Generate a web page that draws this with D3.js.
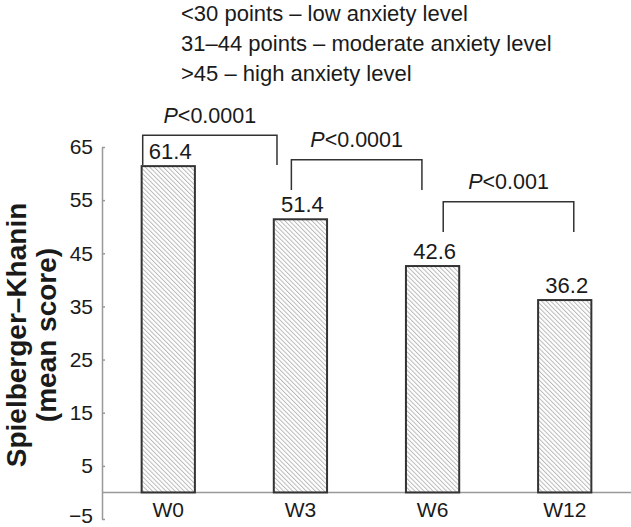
<!DOCTYPE html>
<html>
<head>
<meta charset="utf-8">
<script src="https://cdn.jsdelivr.net/npm/d3@7"></script>
<style>
  body { margin: 0; background: #fff; }
  svg { display: block; font-family: Arial, "Liberation Sans", sans-serif; }
</style>
</head>
<body>
<svg id="chart" width="631" height="527"></svg>
<script>
// Spielberger–Khanin mean score by week

const weeks = ["W0", "W3", "W6", "W12"];
const scores = [61.4, 51.4, 42.6, 36.2];
const yTicks = [-5, 5, 15, 25, 35, 45, 55, 65];
const notes = ["<30 points \u2013 low anxiety level",
               "31\u201344 points \u2013 moderate anxiety level",
               ">45 \u2013 high anxiety level"];
const pairFrom = ["W0", "W3", "W6"];
const pairTo = ["W3", "W6", "W12"];
const pValues = ["<0.0001", "<0.0001", "<0.001"];

const width = 631;
const height = 527;
const svg = d3.select("#chart");

const x = d3.scaleBand()
    .domain(weeks)
    .range([102, 631])
    .paddingInner(0.597)
    .paddingOuter(0.3);

const y = d3.scaleLinear()
    .domain([-5, 65])
    .range([519, 147]);

// hatch fill
const defs = svg.append("defs");
defs.append("pattern")
    .attr("id", "hatch")
    .attr("patternUnits", "userSpaceOnUse")
    .attr("width", 3.2)
    .attr("height", 10)
    .attr("patternTransform", "rotate(-45)")
    .call(p => {
        p.append("rect").attr("width", 3.2).attr("height", 10).attr("fill", "#fff");
        p.append("line")
            .attr("x1", 0.5).attr("x2", 0.5)
            .attr("y1", 0).attr("y2", 10)
            .attr("stroke", "#b4b4b4")
            .attr("stroke-width", 0.9);
    });

// y axis
const yAxis = svg.append("g")
    .attr("transform", "translate(102,0)")
    .call(d3.axisLeft(y).tickValues(yTicks).tickSizeInner(-3).tickSizeOuter(0).tickPadding(9));
yAxis.select(".domain").attr("stroke", "#999").attr("stroke-width", 1.5);
yAxis.selectAll(".tick line").attr("stroke", "#999").attr("stroke-width", 1.5);
yAxis.selectAll(".tick text")
    .attr("font-size", 21)
    .attr("fill", "#1a1a1a")
    .attr("font-family", "Arial, 'Liberation Sans', sans-serif");
// bottom label sits on the edge; nudge it up so it stays inside
yAxis.selectAll(".tick text").filter(d => d === -5).attr("y", -3);

// x axis at zero
svg.append("line")
    .attr("x1", 102).attr("x2", width)
    .attr("y1", y(0)).attr("y2", y(0))
    .attr("stroke", "#999")
    .attr("stroke-width", 1.5);

svg.append("g")
    .selectAll("text")
    .data(weeks)
    .enter()
    .append("text")
    .attr("x", d => x(d) + x.bandwidth() / 2)
    .attr("y", 517)
    .attr("text-anchor", "middle")
    .attr("font-size", 21)
    .attr("fill", "#1a1a1a")
    .text(d => d);

// bars
svg.append("g")
    .selectAll("rect")
    .data(scores)
    .enter()
    .append("rect")
    .attr("x", (d, i) => x(weeks[i]))
    .attr("y", d => y(d))
    .attr("width", x.bandwidth())
    .attr("height", d => y(0) - y(d))
    .attr("fill", "url(#hatch)")
    .attr("stroke", "#333")
    .attr("stroke-width", 2);

// value labels
svg.append("g")
    .selectAll("text")
    .data(scores)
    .enter()
    .append("text")
    .attr("x", (d, i) => x(weeks[i]) + x.bandwidth() / 2 + 2)
    .attr("y", d => y(d) - 7)
    .attr("text-anchor", "middle")
    .attr("font-size", 22)
    .attr("fill", "#1a1a1a")
    .text(d => d.toFixed(1));

// significance brackets
const legFrac = [[0.02, 0.06], [0.33, 0.3], [0.7, 0.67]];
const bracketTop = [67.2, 62.6, 54.7];
const bracketLeg = [61.6, 56.9, 49.0];
const bw = x.bandwidth();

const brackets = svg.append("g");
pValues.forEach((p, i) => {
    const x1 = x(pairFrom[i]) + legFrac[i][0] * bw;
    const x2 = x(pairTo[i]) + legFrac[i][1] * bw;
    const yt = y(bracketTop[i]);
    const yb = y(bracketLeg[i]);
    brackets.append("path")
        .attr("d", `M${x1},${yb}V${yt}H${x2}V${yb}`)
        .attr("fill", "none")
        .attr("stroke", "#333")
        .attr("stroke-width", 1.5);
    const t = brackets.append("text")
        .attr("x", (x1 + x2) / 2)
        .attr("y", yt - 12.5)
        .attr("text-anchor", "middle")
        .attr("font-size", 21.5)
        .attr("fill", "#1a1a1a");
    t.append("tspan").attr("font-style", "italic").text("P");
    t.append("tspan").text(p);
});

// legend notes at the top
svg.append("g")
    .selectAll("text")
    .data(notes)
    .enter()
    .append("text")
    .attr("x", 181)
    .attr("y", (d, i) => 21 + i * 30)
    .attr("font-size", 22)
    .attr("fill", "#1a1a1a")
    .text(d => d);

// y axis title
const title = svg.append("text")
    .attr("transform", "translate(0,335) rotate(-90)")
    .attr("text-anchor", "middle")
    .attr("font-size", 28)
    .attr("font-weight", "bold")
    .attr("fill", "#1a1a1a");
title.append("tspan").attr("x", 0).attr("y", 25.5).text("Spielberger\u2013Khanin");
title.append("tspan").attr("x", 0).attr("y", 56).text("(mean score)");
</script>
</body>
</html>
